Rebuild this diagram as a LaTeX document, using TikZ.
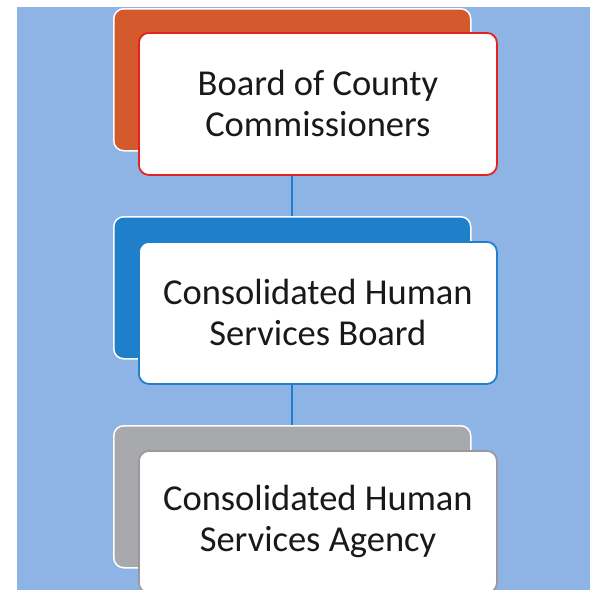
\documentclass[tikz,border=0pt]{standalone}
\usepackage{fontspec}
\setmainfont{Carlito}
\definecolor{bgblue}{HTML}{8DB4E4}
\definecolor{backorange}{HTML}{D4592C}
\definecolor{frontred}{HTML}{E52220}
\definecolor{backblue}{HTML}{1F7FCB}
\definecolor{frontblue}{HTML}{2080CC}
\definecolor{backgray}{HTML}{A8A9AD}
\definecolor{frontgray}{HTML}{9A9A9E}
\definecolor{linkblue}{HTML}{1C7FC8}
\tikzset{
  backbox/.style={rectangle, rounded corners=10pt, draw=white, line width=1.5pt,
    minimum width=357pt, minimum height=142pt, inner sep=0pt, anchor=north west},
  frontbox/.style={rectangle, rounded corners=10pt, fill=white, line width=1.8pt,
    minimum width=358pt, minimum height=142pt, inner sep=0pt, anchor=north west,
    align=center, text=black!90,
    font=\fontsize{36.5}{41}\selectfont},
  link/.style={draw=linkblue, line width=2pt}
}
\begin{document}
\begin{tikzpicture}[x=1pt,y=-1pt]
\useasboundingbox (0,0) rectangle (590,590);
\clip (0,0) rectangle (590,590);
\fill[bgblue] (17,7) rectangle (590,590);
% box 1
\node[backbox, fill=backorange] (back1) at (113,8) {};
\node[frontbox, draw=frontred] (front1) at (138,32) {Board of County\\Commissioners};
% box 2
\node[backbox, fill=backblue] (back2) at (113,216) {};
\node[frontbox, draw=frontblue] (front2) at (138,241) {Consolidated Human\\Services Board};
% box 3
\node[backbox, fill=backgray] (back3) at (113,425) {};
\node[frontbox, draw=frontgray] (front3) at (138,450) {Consolidated Human\\Services Agency};
% connectors
\draw[link] (back1.south |- front1.south) -- (back2.north);
\draw[link] (back2.south |- front2.south) -- (back3.north);
\end{tikzpicture}
\end{document}
